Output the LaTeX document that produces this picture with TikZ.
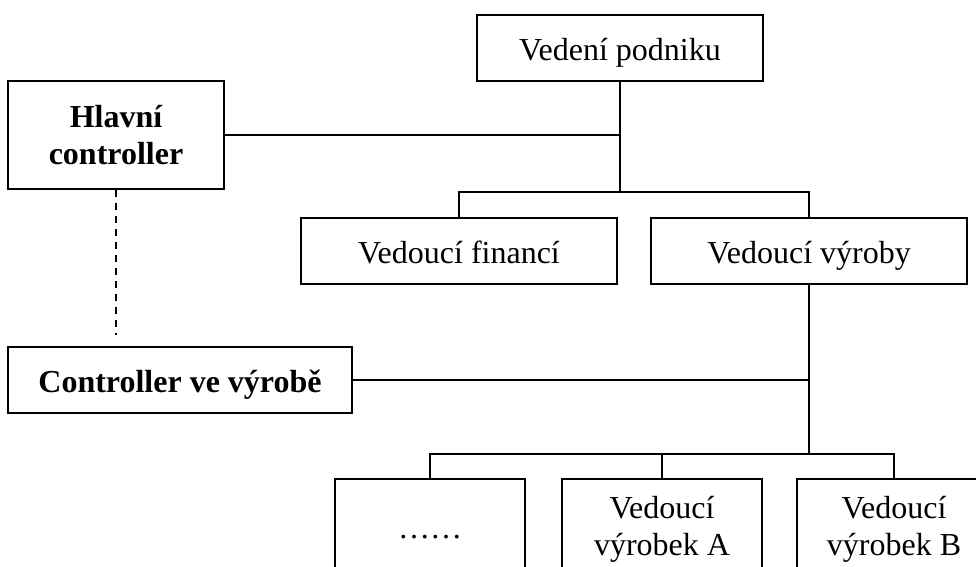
\documentclass[tikz,border=0pt]{standalone}
\usepackage{fontspec}
\setmainfont{Liberation Serif}
\begin{document}
\begin{tikzpicture}[x=1pt,y=-1pt,line width=1.8pt,
  every node/.style={font=\fontsize{32}{37}\selectfont},
  onebox/.style={draw,rectangle,inner sep=0pt,text height=24pt,text depth=0pt,align=center},
  twobox/.style={draw,rectangle,inner sep=0pt,align=center},
  dashlink/.style={line width=1.6pt,dash pattern=on 7pt off 6pt}]
\useasboundingbox (0,0) rectangle (976,566);
\clip (0,0) rectangle (976,566);
\node[onebox,minimum width=286pt,minimum height=66pt] (vp) at (620,48) {Vedení podniku};
\node[twobox,minimum width=216pt,minimum height=108pt,font=\fontsize{32}{37}\selectfont\bfseries] (hc) at (116,135) {Hlavní\\controller};
\node[onebox,minimum width=316pt,minimum height=66pt] (vf) at (459,251) {Vedoucí financí};
\node[onebox,minimum width=316pt,minimum height=66pt] (vv) at (809,251) {Vedoucí výroby};
\node[onebox,minimum width=344pt,minimum height=66pt,font=\fontsize{32}{37}\selectfont\bfseries] (cv) at (180,380) {Controller ve výrobě};
\node[draw,rectangle,inner sep=0pt,text height=18pt,text depth=0pt,minimum width=190pt,minimum height=100pt] (dd) at (430,529) {……};
\node[twobox,minimum width=200pt,minimum height=100pt] (va) at (662,529) {Vedoucí\\výrobek A};
\node[twobox,minimum width=194pt,minimum height=100pt] (vb) at (894,529) {Vedoucí\\výrobek B};
\coordinate (j1) at (620,192);
\coordinate (j2) at (809,454);
\coordinate (dend) at (116,335);
\draw (vp.south) -- (j1);
\draw (hc.east) -- (hc.east -| vp.south);
\draw (vf.north) |- (j1) -| (vv.north);
\draw (vv.south) -- (j2);
\draw (cv.east) -- (cv.east -| vv.south);
\draw (dd.north) |- (j2) -| (vb.north);
\draw (va.north) -- (va.north |- j2);
\draw[dashlink] (hc.south) -- (dend);
\end{tikzpicture}
\end{document}
